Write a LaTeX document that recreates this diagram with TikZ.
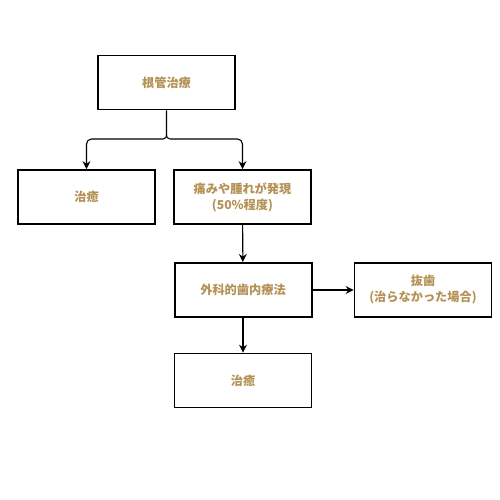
\documentclass[tikz,border=0pt]{standalone}
\usepackage{fontspec}
\setmainfont{Noto Sans CJK JP}
\usepackage{tikz}
\usetikzlibrary{positioning,arrows.meta}
\definecolor{labelgold}{RGB}{180,146,86}

\begin{document}
\begin{tikzpicture}[x=1pt, y=-1pt,
  every node/.style={font=\fontsize{12.2}{16}\selectfont\bfseries, text=labelgold},
  stepbox/.style={draw, line width=1.7pt, fill=white, minimum width=137pt, minimum height=54pt, align=center, inner sep=0pt},
  link/.style={draw, line width=1.1pt, -{Stealth[length=8pt, width=8pt]}}]
  \fill[white] (0,0) rectangle (500,500);
  \useasboundingbox (0,0) rectangle (500,500);

  \node[stepbox] (root) at (166.5,82.5) {根管治療};
  \node[stepbox] (healA) at (86.5,197) {治癒};
  \node[stepbox] (pain) at (242.5,197) {痛みや腫れが発現\\(50\%程度)};
  \node[stepbox, line width=2pt] (surgery) at (243,290) {外科的歯内療法};
  \node[stepbox] (extract) at (423,290) {抜歯\\(治らなかった場合)};
  \node[stepbox] (healB) at (243,380.5) {治癒};

  % split under the root box
  \draw[line width=1.1pt] (root.south) -- ++(0,25) to[out=-90,in=0] ++(-3,3.5);
  \draw[line width=1.1pt] (root.south) ++(0,25) to[out=-90,in=180] ++(3,3.5);
  \draw[link, rounded corners=5pt] (163.5,139) -| (healA.north);
  \draw[link, rounded corners=5pt] (169.5,139) -| (pain.north);

  \draw[link] (pain) -- (surgery);
  \draw[link] (surgery) -- (extract);
  \draw[link] (surgery) -- (healB);
\end{tikzpicture}
\end{document}
